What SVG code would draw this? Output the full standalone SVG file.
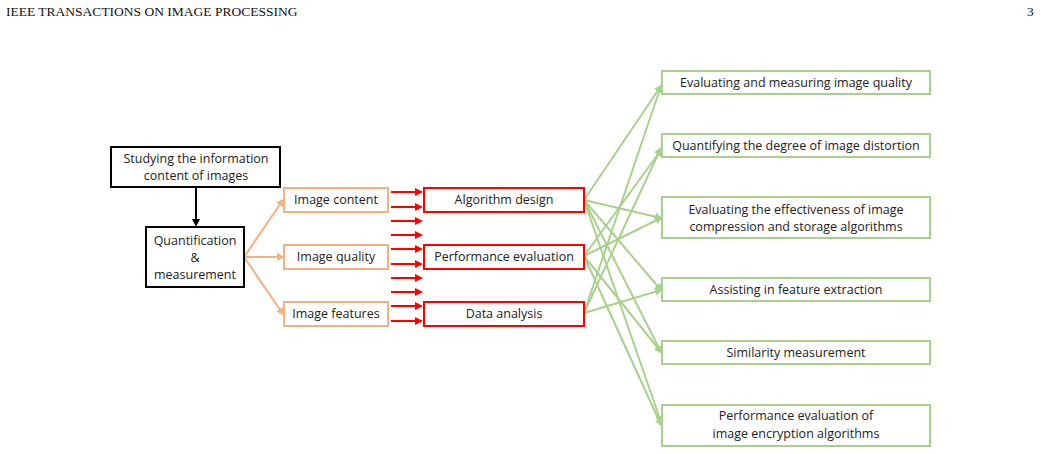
<svg xmlns="http://www.w3.org/2000/svg" width="1041" height="454" viewBox="0 0 1041 454">
<style>
text{font-family:"Open Sans","Noto Sans",sans-serif;font-size:12.5px;fill:#222;text-anchor:middle}
.hd{font-family:"Liberation Serif",serif;font-size:13.5px;text-anchor:start;fill:#111}
.bk{fill:#fff;stroke:#000;stroke-width:2}
.or{fill:#fff;stroke:#f4b183;stroke-width:2}
.rd{fill:#fff;stroke:#f00;stroke-width:2}
.gr{fill:#fff;stroke:#a9d18e;stroke-width:2}
.cb{stroke:#000;stroke-width:2;fill:none}
.co{stroke:#f4b183;stroke-width:2;fill:none}
.cr{stroke:#f00;stroke-width:2;fill:none}
.cg{stroke:#a9d18e;stroke-width:2;fill:none}
</style>
<defs>
<marker id="ab" markerWidth="8" markerHeight="8" refX="6" refY="4" orient="auto" markerUnits="userSpaceOnUse"><path d="M0,0L8,4L0,8z" fill="#000"/></marker>
<marker id="ao" markerWidth="8" markerHeight="8" refX="6" refY="4" orient="auto" markerUnits="userSpaceOnUse"><path d="M0,0L8,4L0,8z" fill="#f4b183"/></marker>
<marker id="ar" markerWidth="8" markerHeight="8" refX="6" refY="4" orient="auto" markerUnits="userSpaceOnUse"><path d="M0,0L8,4L0,8z" fill="#f00"/></marker>
<marker id="ag" markerWidth="8" markerHeight="8" refX="6" refY="4" orient="auto" markerUnits="userSpaceOnUse"><path d="M0,0L8,4L0,8z" fill="#a9d18e"/></marker>
</defs>
<rect width="1041" height="454" fill="#fff"/>
<text class="hd" x="6" y="16">IEEE TRANSACTIONS ON IMAGE PROCESSING</text>
<text class="hd" x="1027" y="16">3</text>
<g id="connectors">
<line class="cb" x1="196" y1="187" x2="196" y2="225" marker-end="url(#ab)"/>
<line class="co" x1="244" y1="257" x2="283" y2="200" marker-end="url(#ao)"/>
<line class="co" x1="244" y1="257" x2="283" y2="257" marker-end="url(#ao)"/>
<line class="co" x1="244" y1="257" x2="283" y2="314" marker-end="url(#ao)"/>
<g class="cr" marker-end="url(#ar)">
<line x1="391" y1="192" x2="421" y2="192"/><line x1="391" y1="207" x2="421" y2="207"/>
<line x1="391" y1="221" x2="421" y2="221"/><line x1="391" y1="235" x2="421" y2="235"/>
<line x1="391" y1="249" x2="421" y2="249"/><line x1="391" y1="264" x2="421" y2="264"/>
<line x1="391" y1="278" x2="421" y2="278"/><line x1="391" y1="292" x2="421" y2="292"/>
<line x1="391" y1="306" x2="421" y2="306"/><line x1="391" y1="321" x2="421" y2="321"/>
</g>
<g class="cg" marker-end="url(#ag)">
<line x1="584" y1="200" x2="661" y2="86"/>
<line x1="584" y1="200" x2="661" y2="218"/>
<line x1="584" y1="200" x2="661" y2="290"/>
<line x1="584" y1="200" x2="661" y2="352"/>
<line x1="584" y1="200" x2="661" y2="422"/>
<line x1="584" y1="256" x2="661" y2="150"/>
<line x1="584" y1="256" x2="661" y2="218"/>
<line x1="584" y1="256" x2="661" y2="352"/>
<line x1="584" y1="256" x2="661" y2="425"/>
<line x1="584" y1="313" x2="661" y2="86"/>
<line x1="584" y1="313" x2="661" y2="148"/>
<line x1="584" y1="313" x2="661" y2="290"/>
</g>
</g>
<g id="n1"><rect class="bk" x="111" y="147" width="169" height="40"/><text x="196" y="163">Studying the information</text><text x="196" y="180">content of images</text></g>
<g id="n2"><rect class="bk" x="146" y="227" width="98" height="60"/><text x="195" y="245">Quantification</text><text x="195" y="262">&amp;</text><text x="195" y="279">measurement</text></g>
<g id="o1"><rect class="or" x="284" y="188" width="104" height="24"/><text x="336" y="204">Image content</text></g>
<g id="o2"><rect class="or" x="284" y="245" width="104" height="24"/><text x="336" y="261">Image quality</text></g>
<g id="o3"><rect class="or" x="284" y="302" width="104" height="24"/><text x="336" y="318">Image features</text></g>
<g id="r1"><rect class="rd" x="424" y="188" width="160" height="24"/><text x="504" y="204">Algorithm design</text></g>
<g id="r2"><rect class="rd" x="424" y="245" width="160" height="24"/><text x="504" y="261">Performance evaluation</text></g>
<g id="r3"><rect class="rd" x="424" y="302" width="160" height="24"/><text x="504" y="318">Data analysis</text></g>
<g id="g1"><rect class="gr" x="662" y="71" width="268" height="23"/><text x="796" y="87">Evaluating and measuring image quality</text></g>
<g id="g2"><rect class="gr" x="662" y="134" width="268" height="23"/><text x="796" y="150">Quantifying the degree of image distortion</text></g>
<g id="g3"><rect class="gr" x="662" y="197" width="268" height="41"/><text x="796" y="214">Evaluating the effectiveness of image</text><text x="796" y="231">compression and storage algorithms</text></g>
<g id="g4"><rect class="gr" x="662" y="278" width="268" height="23"/><text x="796" y="294">Assisting in feature extraction</text></g>
<g id="g5"><rect class="gr" x="662" y="341" width="268" height="23"/><text x="796" y="357">Similarity measurement</text></g>
<g id="g6"><rect class="gr" x="662" y="405" width="268" height="41"/><text x="796" y="420">Performance evaluation of</text><text x="796" y="438">image encryption algorithms</text></g>
</svg>
